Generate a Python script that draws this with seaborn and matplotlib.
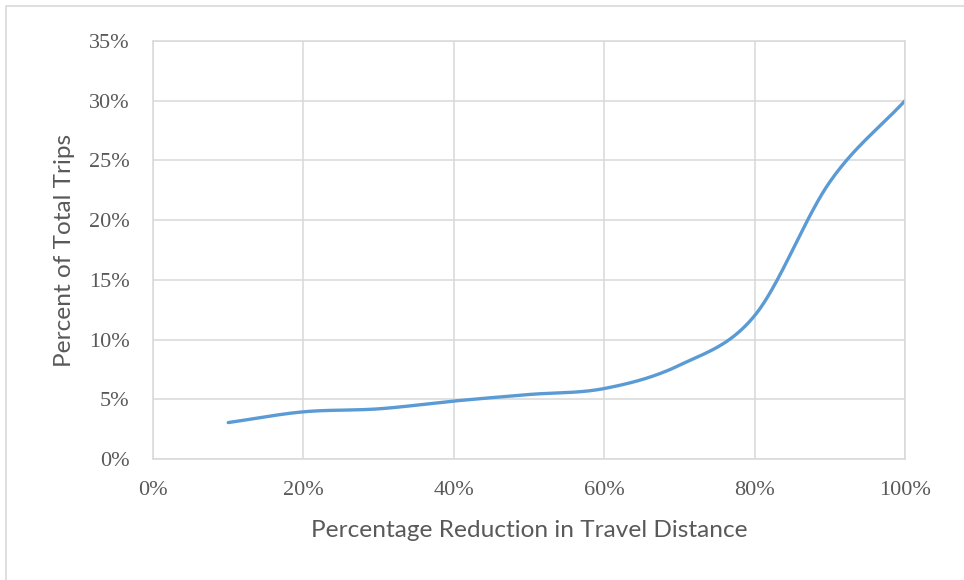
import numpy as np
import pandas as pd
import matplotlib
matplotlib.use("Agg")
import matplotlib.pyplot as plt
from matplotlib.patches import Rectangle
import seaborn as sns

# Data: share of trips by percentage reduction in travel distance
reduction_pct = [10, 20, 30, 40, 50, 60, 70, 80, 90, 100]
trips_pct = [3.05, 3.95, 4.2, 4.85, 5.4, 5.9, 7.85, 12.0, 23.2, 30.0]

x_ticks = [0, 20, 40, 60, 80, 100]
y_ticks = [0, 5, 10, 15, 20, 25, 30, 35]

LINE_COLOR = "#5B9BD5"
GRID_COLOR = "#D9D9D9"
TEXT_COLOR = "#595959"


def smooth_curve(xs, ys, steps=40):
    """Catmull-Rom smoothing through every data point (spreadsheet-style smoothed line)."""
    xs = np.asarray(xs, float)
    ys = np.asarray(ys, float)
    px = np.concatenate([[2 * xs[0] - xs[1]], xs, [2 * xs[-1] - xs[-2]]])
    py = np.concatenate([[2 * ys[0] - ys[1]], ys, [2 * ys[-1] - ys[-2]]])
    out_x, out_y = [], []
    t = np.linspace(0, 1, steps, endpoint=False)
    for i in range(1, len(px) - 2):
        p0, p1, p2, p3 = (np.array([px[j], py[j]]) for j in (i - 1, i, i + 1, i + 2))
        c1 = p1 + (p2 - p0) / 6
        c2 = p2 - (p3 - p1) / 6
        pts = ((1 - t) ** 3)[:, None] * p1 + (3 * (1 - t) ** 2 * t)[:, None] * c1 \
            + (3 * (1 - t) * t ** 2)[:, None] * c2 + (t ** 3)[:, None] * p2
        out_x.extend(pts[:, 0])
        out_y.extend(pts[:, 1])
    out_x.append(xs[-1])
    out_y.append(ys[-1])
    return np.array(out_x), np.array(out_y)


sx, sy = smooth_curve(reduction_pct, trips_pct)
curve = pd.DataFrame({"reduction": sx, "trips": sy})

sns.set_theme(style="white")
plt.rcParams["font.family"] = ["Liberation Serif", "DejaVu Serif"]

W, H = 964, 580
fig = plt.figure(figsize=(W / 100, H / 100), dpi=100)
ax = fig.add_axes([153 / W, 1 - 459 / H, (905 - 153) / W, (459 - 41) / H])

sns.lineplot(data=curve, x="reduction", y="trips", ax=ax, color=LINE_COLOR,
             linewidth=2.4, sort=False, estimator=None, solid_capstyle="round")

ax.set_xlim(0, 100)
ax.set_ylim(0, 35)
ax.set_xticks(x_ticks)
ax.set_yticks(y_ticks)
tick_font = dict(family=["Liberation Serif", "DejaVu Serif"], size=16, color=TEXT_COLOR)
ax.set_xticklabels([f"{v}%" for v in x_ticks], **tick_font)
ax.set_yticklabels([f"{v}%" for v in y_ticks], **tick_font)
ax.tick_params(axis="both", length=0)
ax.tick_params(axis="x", pad=16)
ax.tick_params(axis="y", pad=17)

ax.grid(True, color=GRID_COLOR, linewidth=1.1)
ax.set_axisbelow(True)
for side in ("left", "right", "top", "bottom"):
    ax.spines[side].set_visible(True)
    ax.spines[side].set_color(GRID_COLOR)
    ax.spines[side].set_linewidth(1.1)

label_font = dict(family=["Lato", "DejaVu Sans"], size=17.6, color=TEXT_COLOR)
ax.set_xlabel("Percentage Reduction in Travel Distance", labelpad=14, **label_font)
ax.set_ylabel("Percent of Total Trips", labelpad=10, **label_font)

# Chart area border
fig.patches.append(Rectangle((6 / W, -0.05), 1.1, 1 - 6 / H + 0.05,
                             transform=fig.transFigure, fill=False,
                             edgecolor=GRID_COLOR, linewidth=1.2))

fig.savefig("out.png", dpi=100, facecolor="white")
